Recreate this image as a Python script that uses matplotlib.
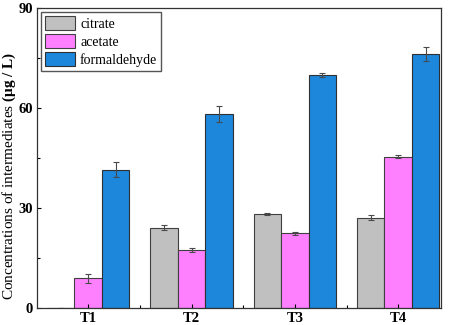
import numpy as np
import matplotlib.pyplot as plt

plt.rcParams['font.family'] = 'Liberation Serif'
plt.rcParams['mathtext.fontset'] = 'custom'
plt.rcParams['mathtext.rm'] = 'Liberation Serif'
plt.rcParams['mathtext.bf'] = 'Liberation Serif:bold'
plt.rcParams['mathtext.it'] = 'Liberation Serif:italic'

groups = ['T1', 'T2', 'T3', 'T4']
citrate = [0, 24.1, 28.1, 27.1]
citrate_err = [0, 0.8, 0.3, 0.7]
acetate = [8.9, 17.4, 22.4, 45.4]
acetate_err = [1.3, 0.7, 0.5, 0.5]
formaldehyde = [41.5, 58.2, 69.8, 76.2]
formaldehyde_err = [2.2, 2.5, 0.6, 2.0]

fig = plt.figure(figsize=(4.54, 3.25), dpi=100)
ax = fig.add_axes([0.0815, 0.052, 0.889, 0.923])

x = np.arange(1, 5)
w = 0.266
ek = dict(ecolor='#4a4a4a', elinewidth=0.8, capsize=2.5, capthick=0.8)
ax.bar(x - w, citrate, w, yerr=citrate_err, color='#C0C0C0', edgecolor='#404040',
       linewidth=0.8, label='citrate', error_kw=ek)
ax.bar(x, acetate, w, yerr=acetate_err, color='#FF80FF', edgecolor='#404040',
       linewidth=0.8, label='acetate', error_kw=ek)
ax.bar(x + w, formaldehyde, w, yerr=formaldehyde_err, color='#1C87DB', edgecolor='#303030',
       linewidth=0.8, label='formaldehyde', error_kw=ek)

ax.set_xlim(0.505, 4.41)
ax.set_ylim(0, 90)
ax.set_yticks([0, 30, 60, 90])
ax.set_yticks([15, 45, 75], minor=True)
ax.set_xticks(x)
ax.set_xticks([1.5, 2.5, 3.5], minor=True)
ax.set_xticklabels(groups, fontweight='bold', fontsize=10.5)
for lab in ax.get_yticklabels():
    lab.set_fontweight('bold')
    lab.set_fontsize(10.5)
ax.tick_params(which='both', direction='in', width=0.8)
ax.tick_params(which='major', length=3, pad=3)
ax.tick_params(which='minor', length=2)
for s in ax.spines.values():
    s.set_linewidth(0.9)
    s.set_color('#333333')

ax.set_ylabel(r'Concentrations of intermediates $\mathbf{(\mu g\ /\ L)}$', fontsize=11,
              va='center')
ax.yaxis.set_label_coords(-0.068, 0.44)

ax.legend(loc='upper left', fontsize=10, handlelength=2.1, handleheight=1.1,
          borderpad=0.3, labelspacing=0.25, handletextpad=0.4, fancybox=False,
          edgecolor='#555555', framealpha=1, borderaxespad=0.3)

fig.savefig('out.png', dpi=100)
